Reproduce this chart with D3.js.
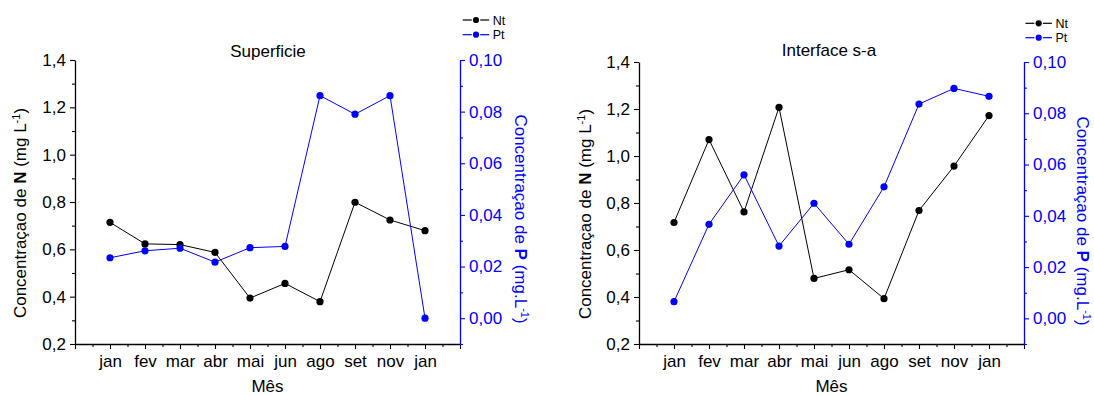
<!DOCTYPE html>
<html>
<head>
<meta charset="utf-8">
<script src="https://cdn.jsdelivr.net/npm/d3@7"></script>
<style>
  html, body { margin: 0; padding: 0; background: #fff; }
  svg { display: block; font-family: "Liberation Sans", Arial, sans-serif; }
</style>
</head>
<body>
<svg id="chart" width="1094" height="396"></svg>
<script>
// ---- data ----
const months = ["jan", "fev", "mar", "abr", "mai", "jun", "ago", "set", "nov", "jan"];
const ntSuperficie = [0.714, 0.623, 0.620, 0.587, 0.394, 0.456, 0.379, 0.799, 0.724, 0.679];
const ptSuperficie = [0.0234, 0.0261, 0.0271, 0.0217, 0.0273, 0.0278, 0.0862, 0.0790, 0.0862, 0.0000];
const ntInterface = [0.717, 1.070, 0.762, 1.207, 0.479, 0.516, 0.393, 0.768, 0.957, 1.172];
const ptInterface = [0.0065, 0.0367, 0.0560, 0.0282, 0.0449, 0.0289, 0.0513, 0.0836, 0.0897, 0.0866];
const nTicks = [0.2, 0.4, 0.6, 0.8, 1.0, 1.2, 1.4];
const nMinorTicks = [0.3, 0.5, 0.7, 0.9, 1.1, 1.3];
const pTicks = [0.00, 0.02, 0.04, 0.06, 0.08, 0.10];
const pMinorTicks = [-0.01, 0.01, 0.03, 0.05, 0.07, 0.09];
const xDomain = [0, 11];
const titles = ["Superficie", "Interface s-a"];
const seriesNames = ["Nt", "Pt"];

const svg = d3.select("#chart");
const BLUE = "#0000ff";
const FS = 17;

function comma(d, n) { return d.toFixed(n).replace(".", ","); }

function panel(cfg) {
  const g = svg.append("g");
  const x = d3.scaleLinear().domain(xDomain).range([cfg.x0, cfg.x1]);
  const yN = d3.scaleLinear().domain([0.2, 1.4]).range([cfg.bottom, cfg.top]);
  const yP = d3.scaleLinear().domain([-0.01, 0.10]).range([cfg.bottom, cfg.top]);

  // bottom axis - minor
  g.append("g").attr("transform", `translate(0,${cfg.bottom})`)
    .call(d3.axisBottom(x).tickValues(d3.range(0.5, 11, 1)).tickSize(3).tickFormat(""))
    .call(s => s.select(".domain").remove());
  // bottom axis - major
  const bx = g.append("g").attr("transform", `translate(0,${cfg.bottom})`)
    .call(d3.axisBottom(x).tickValues(d3.range(0, 12, 1)).tickSize(5).tickSizeOuter(0)
      .tickFormat(i => (i >= 1 && i <= months.length) ? months[i - 1] : ""));
  bx.selectAll("text").attr("y", 23).attr("dy", 0).style("font-size", FS + "px").attr("fill", "#000");
  bx.select(".domain").attr("stroke-width", 1.3);

  // left axis
  g.append("g").attr("transform", `translate(${cfg.x0},0)`)
    .call(d3.axisLeft(yN).tickValues(nMinorTicks).tickSize(3).tickFormat(""))
    .call(s => s.select(".domain").remove());
  const ly = g.append("g").attr("transform", `translate(${cfg.x0},0)`)
    .call(d3.axisLeft(yN).tickValues(nTicks).tickSize(5).tickSizeOuter(0).tickPadding(4)
      .tickFormat(d => comma(d, 1)));
  ly.selectAll("text").style("font-size", FS + "px").attr("fill", "#000");
  ly.select(".domain").attr("stroke-width", 1.3);

  // right axis
  const rmin = g.append("g").attr("transform", `translate(${cfg.x1},0)`)
    .call(d3.axisRight(yP).tickValues(pMinorTicks).tickSize(3).tickFormat(""))
    .call(s => s.select(".domain").remove());
  rmin.selectAll("line").attr("stroke", BLUE);
  const ry = g.append("g").attr("transform", `translate(${cfg.x1},0)`)
    .call(d3.axisRight(yP).tickValues(pTicks).tickSize(5).tickSizeOuter(0).tickPadding(4)
      .tickFormat(d => comma(d, 2)));
  ry.selectAll("text").style("font-size", FS + "px").attr("fill", BLUE);
  ry.selectAll("line").attr("stroke", BLUE);
  ry.select(".domain").attr("stroke", BLUE).attr("stroke-width", 1.3);
  g.selectAll(".tick line").attr("stroke-width", 1.1);

  // lines + points
  const lineN = d3.line().x((d, i) => x(i + 1)).y(d => yN(d));
  const lineP = d3.line().x((d, i) => x(i + 1)).y(d => yP(d));
  g.append("path").datum(cfg.nt).attr("d", lineN).attr("fill", "none").attr("stroke", "#000").attr("stroke-width", 1);
  g.append("path").datum(cfg.pt).attr("d", lineP).attr("fill", "none").attr("stroke", BLUE).attr("stroke-width", 1);
  g.selectAll(".dn").data(cfg.nt).enter().append("circle")
    .attr("cx", (d, i) => x(i + 1)).attr("cy", d => yN(d)).attr("r", 3.6).attr("fill", "#000");
  g.selectAll(".dp").data(cfg.pt).enter().append("circle")
    .attr("cx", (d, i) => x(i + 1)).attr("cy", d => yP(d)).attr("r", 3.6).attr("fill", BLUE);

  // title
  g.append("text").attr("x", cfg.titleX).attr("y", cfg.titleY).attr("text-anchor", "middle")
    .style("font-size", FS + "px").text(cfg.title);

  // x label
  g.append("text").attr("x", (cfg.x0 + cfg.x1) / 2).attr("y", 392).attr("text-anchor", "middle")
    .style("font-size", FS + "px").text("Mês");

  // left y label
  const tl = g.append("text")
    .attr("transform", `translate(${cfg.lLabelX},${cfg.lLabelY}) rotate(-90)`)
    .attr("text-anchor", "middle").attr("dy", "0.35em").style("font-size", FS + "px");
  tl.append("tspan").text("Concentraçao de ");
  tl.append("tspan").attr("font-weight", "bold").text("N");
  tl.append("tspan").text(" (mg L");
  tl.append("tspan").attr("dy", -6).style("font-size", "11px").text("-1");
  tl.append("tspan").attr("dy", 6).text(")");

  // right y label
  const tr = g.append("text")
    .attr("transform", `translate(${cfg.rLabelX},${cfg.rLabelY}) rotate(90)`)
    .attr("text-anchor", "middle").attr("dy", "0.35em").attr("fill", BLUE).style("font-size", FS + "px");
  tr.append("tspan").text("Concentraçao de ");
  tr.append("tspan").attr("font-weight", "bold").text("P");
  tr.append("tspan").text(" (mg.L");
  tr.append("tspan").attr("dy", -6).style("font-size", "11px").text("-1");
  tr.append("tspan").attr("dy", 6).text(")");

  // legend
  const lg = g.append("g");
  const colors = ["#000", BLUE];
  seriesNames.forEach((nm, k) => {
    const yy = cfg.legY + k * cfg.legGap;
    const lx = cfg.legX;
    lg.append("line").attr("x1", lx).attr("x2", lx + 9).attr("y1", yy).attr("y2", yy)
      .attr("stroke", colors[k]).attr("stroke-width", 1.2);
    lg.append("line").attr("x1", lx + 17.5).attr("x2", lx + 26.5).attr("y1", yy).attr("y2", yy)
      .attr("stroke", colors[k]).attr("stroke-width", 1.2);
    lg.append("circle").attr("cx", lx + 13.3).attr("cy", yy).attr("r", 3.1).attr("fill", colors[k]);
    lg.append("text").attr("x", lx + 30).attr("y", yy + 4.5).style("font-size", "12.5px").text(nm);
  });
}

panel({ x0: 75, x1: 460, top: 60, bottom: 344, nt: ntSuperficie, pt: ptSuperficie,
  title: titles[0], titleX: 268, titleY: 57,
  lLabelX: 20, lLabelY: 213, rLabelX: 521, rLabelY: 219,
  legX: 462.7, legY: 20, legGap: 14.7 });

panel({ x0: 639, x1: 1024, top: 62, bottom: 344, nt: ntInterface, pt: ptInterface,
  title: titles[1], titleX: 829, titleY: 56,
  lLabelX: 585, lLabelY: 214, rLabelX: 1083, rLabelY: 221,
  legX: 1025.4, legY: 23.3, legGap: 14.4 });
</script>
</body>
</html>
